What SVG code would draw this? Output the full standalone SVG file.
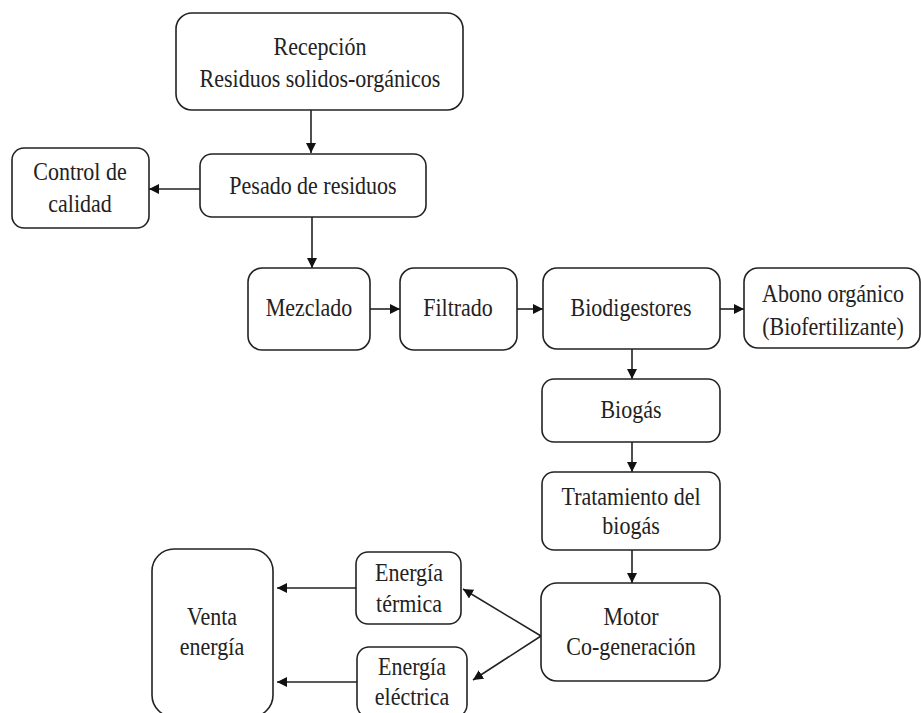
<svg xmlns="http://www.w3.org/2000/svg" width="921" height="713" viewBox="0 0 921 713">
<defs>
<style>
.box{fill:#fff;stroke:#222;stroke-width:1.6}
.t{font-family:"Liberation Serif","Times New Roman",serif;font-size:22px;fill:#222;text-anchor:middle}
.c{stroke:#222;stroke-width:1.6;fill:none;marker-end:url(#ah)}
</style>
<marker id="ah" viewBox="0 0 10 10" refX="10" refY="5" markerWidth="10" markerHeight="10" markerUnits="userSpaceOnUse" orient="auto">
<path d="M0,0 L10,5 L0,10 z" fill="#111"/>
</marker>
</defs>
<rect width="921" height="713" fill="#fff"/>
<g id="connectors">
<line class="c" x1="311" y1="110" x2="311" y2="153"/>
<line class="c" x1="200" y1="189" x2="149" y2="189"/>
<line class="c" x1="312" y1="217" x2="312" y2="268"/>
<line class="c" x1="370" y1="309" x2="400" y2="309"/>
<line class="c" x1="517" y1="309" x2="543" y2="309"/>
<line class="c" x1="720" y1="309" x2="744" y2="309"/>
<line class="c" x1="632" y1="349" x2="632" y2="379"/>
<line class="c" x1="632" y1="442" x2="632" y2="472"/>
<line class="c" x1="632" y1="550" x2="632" y2="583"/>
<line class="c" x1="541" y1="636" x2="463" y2="589"/>
<line class="c" x1="541" y1="636" x2="473" y2="680"/>
<line class="c" x1="356" y1="588" x2="277" y2="588"/>
<line class="c" x1="357" y1="682" x2="277" y2="682"/>
</g>
<g id="recepcion">
<rect class="box" x="176" y="13" width="287" height="97" rx="16"/>
<text class="t" transform="translate(320,55) scale(1,1.18)"><tspan x="0" y="0">Recepción</tspan><tspan x="0" y="27.1">Residuos solidos-orgánicos</tspan></text>
</g>
<g id="pesado">
<rect class="box" x="200" y="154" width="226" height="63" rx="12"/>
<text class="t" transform="translate(313,194) scale(1,1.18)">Pesado de residuos</text>
</g>
<g id="control">
<rect class="box" x="12" y="148" width="137" height="80" rx="12"/>
<text class="t" transform="translate(80,180) scale(1,1.18)"><tspan x="0" y="0">Control de</tspan><tspan x="0" y="27.1">calidad</tspan></text>
</g>
<g id="mezclado">
<rect class="box" x="248" y="268" width="122" height="82" rx="14"/>
<text class="t" transform="translate(309,316) scale(1,1.18)">Mezclado</text>
</g>
<g id="filtrado">
<rect class="box" x="400" y="268" width="117" height="82" rx="14"/>
<text class="t" transform="translate(458,316) scale(1,1.18)">Filtrado</text>
</g>
<g id="biodigestores">
<rect class="box" x="543" y="268" width="177" height="81" rx="14"/>
<text class="t" transform="translate(631,316) scale(1,1.18)">Biodigestores</text>
</g>
<g id="abono">
<rect class="box" x="744" y="268" width="176" height="80" rx="14"/>
<text class="t" transform="translate(833,302) scale(1,1.18)"><tspan x="0" y="0">Abono orgánico</tspan><tspan x="0" y="28">(Biofertilizante)</tspan></text>
</g>
<g id="biogas">
<rect class="box" x="542" y="379" width="178" height="63" rx="12"/>
<text class="t" transform="translate(631,418) scale(1,1.18)">Biogás</text>
</g>
<g id="tratamiento">
<rect class="box" x="542" y="472" width="178" height="78" rx="12"/>
<text class="t" transform="translate(631,505) scale(1,1.18)"><tspan x="0" y="0">Tratamiento del</tspan><tspan x="0" y="24.5">biogás</tspan></text>
</g>
<g id="motor">
<rect class="box" x="541" y="583" width="179" height="98" rx="16"/>
<text class="t" transform="translate(631,625) scale(1,1.18)"><tspan x="0" y="0">Motor</tspan><tspan x="0" y="25.4">Co-generación</tspan></text>
</g>
<g id="termica">
<rect class="box" x="356" y="552" width="105" height="72" rx="12"/>
<text class="t" transform="translate(409,581) scale(1,1.18)"><tspan x="0" y="0">Energía</tspan><tspan x="0" y="26.3">térmica</tspan></text>
</g>
<g id="electrica">
<rect class="box" x="357" y="647" width="110" height="70" rx="12"/>
<text class="t" transform="translate(412,675) scale(1,1.18)"><tspan x="0" y="0">Energía</tspan><tspan x="0" y="25.4">eléctrica</tspan></text>
</g>
<g id="venta">
<rect class="box" x="152" y="549" width="121" height="168" rx="22"/>
<text class="t" transform="translate(212,625) scale(1,1.18)"><tspan x="0" y="0">Venta</tspan><tspan x="0" y="25.4">energía</tspan></text>
</g>
</svg>
